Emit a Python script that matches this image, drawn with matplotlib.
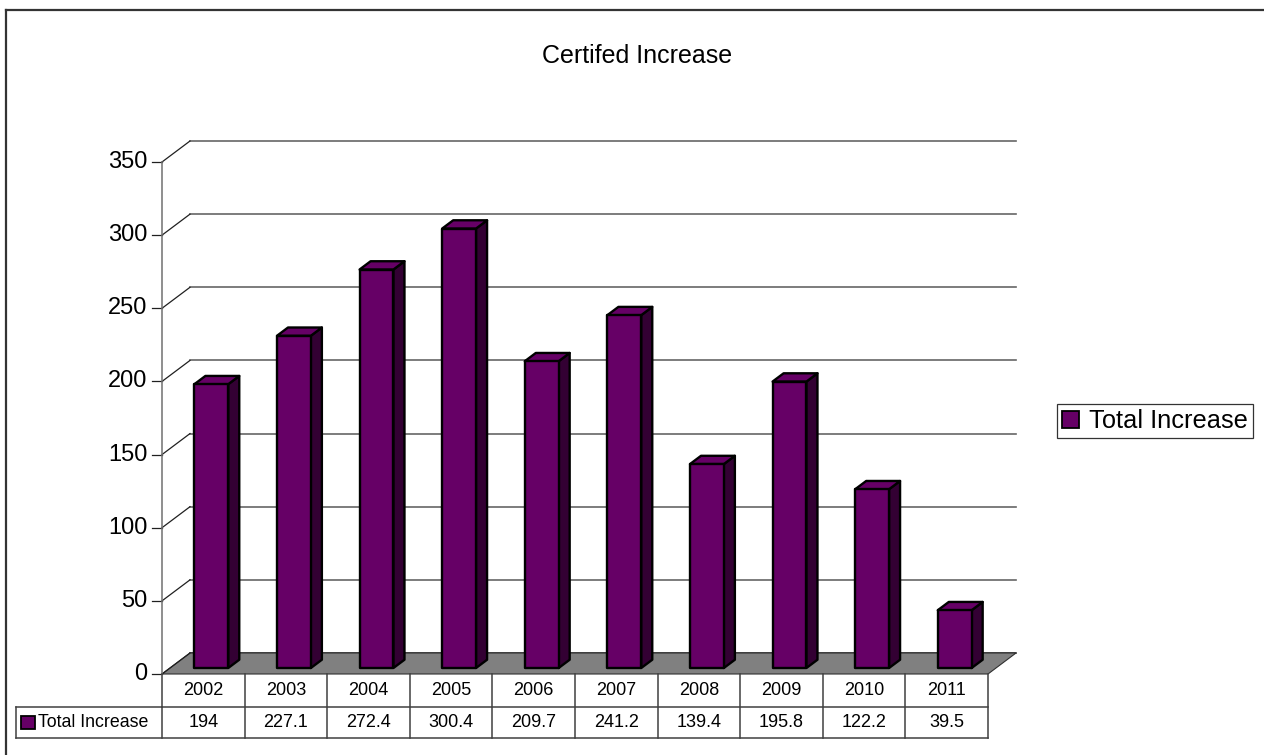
import matplotlib.pyplot as plt
from matplotlib.patches import Polygon, Rectangle, Patch
from matplotlib.lines import Line2D

plt.rcParams['font.family'] = ['Liberation Sans', 'DejaVu Sans']

years = ['2002', '2003', '2004', '2005', '2006', '2007', '2008', '2009', '2010', '2011']
total_increase = [194, 227.1, 272.4, 300.4, 209.7, 241.2, 139.4, 195.8, 122.2, 39.5]
value_labels = ['194', '227.1', '272.4', '300.4', '209.7', '241.2', '139.4', '195.8', '122.2', '39.5']
yticks = [0, 50, 100, 150, 200, 250, 300, 350]
series_name = 'Total Increase'

W, H = 1264, 755
fig = plt.figure(figsize=(W / 100, H / 100), dpi=100)

# outer chart-area border (only top and left edges fall inside the image)
fig.add_artist(Line2D([6 / W, 6 / W], [0, 1 - 10 / H], transform=fig.transFigure,
                      color='#333333', lw=1.6))
fig.add_artist(Line2D([6 / W, 1], [1 - 10 / H, 1 - 10 / H], transform=fig.transFigure,
                      color='#333333', lw=1.6))

# front plane of the plot: x in categories, y in values
ax = fig.add_axes([162 / W, (H - 674) / H, 826 / W, 512 / H])
ax.set_xlim(0, len(years))
ax.set_ylim(0, 350)
ax.axis('off')

px_x = 826 / len(years)   # pixels per category
px_y = 512 / 350          # pixels per value unit
ddx = 28 / px_x           # full depth offset
ddy = 21 / px_y
n = len(years)

grid_col = '#666666'

# floor
ax.add_patch(Polygon([(0, 0), (n, 0), (n + ddx, ddy), (ddx, ddy)], closed=True,
                     fc='#808080', ec='#303030', lw=0.8, clip_on=False, zorder=1))

# back-wall gridlines, diagonal connectors and ticks
for v in yticks:
    ax.plot([ddx, n + ddx], [v + ddy, v + ddy], color=grid_col if v else '#303030',
            lw=1.2, clip_on=False, zorder=0.5)
    ax.plot([0, ddx], [v, v + ddy], color='#202020', lw=0.9, clip_on=False, zorder=2)
    ax.plot([-0.12, 0], [v, v], color='#202020', lw=0.9, clip_on=False, zorder=2)
    ax.text(-0.18, v, str(v), ha='right', va='center', fontsize=17, clip_on=False)
ax.plot([0, 0], [0, 350], color='#707070', lw=1.1, clip_on=False, zorder=2)

# bars
bw = 0.41
f1, f2 = 0.286, 0.68
front_c, side_c, top_c = '#660066', '#330033', '#660066'
for i, v in enumerate(total_increase):
    xl = i + 0.5 - bw / 2 + f1 * ddx
    xr = xl + bw
    yb = f1 * ddy
    yt = yb + v
    ox, oy = (f2 - f1) * ddx, (f2 - f1) * ddy
    kw = dict(closed=True, ec='black', lw=1.7, joinstyle='round', clip_on=False, zorder=3)
    ax.add_patch(Polygon([(xr, yb), (xr, yt), (xr + ox, yt + oy), (xr + ox, yb + oy)],
                         fc=side_c, **kw))
    ax.add_patch(Polygon([(xl, yt), (xr, yt), (xr + ox, yt + oy), (xl + ox, yt + oy)],
                         fc=top_c, **kw))
    ax.add_patch(Polygon([(xl, yb), (xr, yb), (xr, yt), (xl, yt)], fc=front_c, **kw))

# data table under the plot
r1 = -33 / px_y
r2 = -64 / px_y
lab_left = -146 / px_x
tcol = '#404040'
for i in range(n + 1):
    ax.plot([i, i], [0, r2], color=tcol, lw=1.1, clip_on=False)
ax.plot([0, n], [r1, r1], color=tcol, lw=1.1, clip_on=False)
ax.plot([lab_left, n], [r2, r2], color=tcol, lw=1.1, clip_on=False)
ax.plot([lab_left, 0], [r1, r1], color=tcol, lw=1.1, clip_on=False)
ax.plot([lab_left, lab_left], [r1, r2], color=tcol, lw=1.1, clip_on=False)
for i, (yr, lab) in enumerate(zip(years, value_labels)):
    ax.text(i + 0.5, r1 / 2, yr, ha='center', va='center', fontsize=13, clip_on=False)
    ax.text(i + 0.5, (r1 + r2) / 2, lab, ha='center', va='center', fontsize=13,
            clip_on=False)
ax.add_patch(Rectangle((lab_left + 5 / px_x, (r1 + r2) / 2 - 6.5 / px_y),
                       14 / px_x, 13 / px_y, fc=front_c, ec='black', lw=1.3,
                       clip_on=False))
ax.text(lab_left + 22 / px_x, (r1 + r2) / 2, series_name, ha='left', va='center',
        fontsize=12.8, clip_on=False)

# title
fig.text(637 / W, 1 - 56 / H, 'Certifed Increase', ha='center', va='center', fontsize=18)

# legend
leg = fig.legend(handles=[Patch(fc=front_c, ec='black', lw=1.3, label=series_name)],
                 loc='center left', bbox_to_anchor=(1057 / W, 1 - 421 / H),
                 fontsize=18.3, frameon=True, fancybox=False, edgecolor='black',
                 handlelength=0.65, handleheight=0.65, handletextpad=0.4,
                 borderpad=0.2, borderaxespad=0)
leg.get_frame().set_linewidth(0.9)

fig.savefig('out.png', dpi=100)
